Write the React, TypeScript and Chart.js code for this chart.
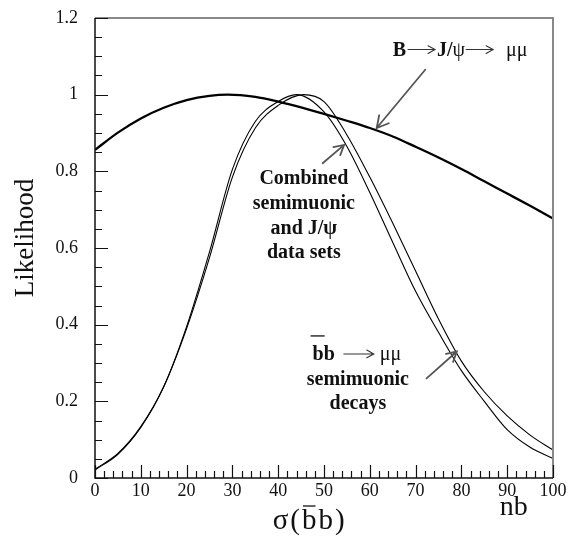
import React, { useEffect, useRef } from "react";
import { Chart, registerables } from "chart.js";
Chart.register(...registerables);

// J/psi (broad) likelihood
const jpsiX = [0, 5, 10, 15, 20, 25, 29, 35, 40, 45, 50, 55, 60, 65, 70, 75, 80, 85, 90, 95, 100];
const jpsiY = [0.856, 0.901, 0.938, 0.966, 0.986, 0.997, 1.0, 0.994, 0.982, 0.967, 0.95, 0.932, 0.913, 0.891, 0.864, 0.836, 0.806, 0.774, 0.742, 0.71, 0.677];

// Combined semimuonic + J/psi likelihood
const combX = [0, 5, 10, 15, 20, 25, 30, 35, 40, 44, 50, 55, 60, 65, 70, 75, 80, 85, 90, 95, 100];
const combY = [0.021, 0.062, 0.132, 0.238, 0.395, 0.59, 0.805, 0.93, 0.982, 1.0, 0.955, 0.865, 0.745, 0.615, 0.487, 0.38, 0.28, 0.2, 0.126, 0.08, 0.051];

// bb -> mu mu semimuonic likelihood
const semiX = [0, 5, 10, 15, 20, 25, 30, 35, 40, 45.5, 50, 55, 60, 65, 70, 75, 80, 85, 90, 95, 100];
const semiY = [0.023, 0.064, 0.134, 0.238, 0.39, 0.575, 0.785, 0.913, 0.972, 1.0, 0.982, 0.895, 0.785, 0.665, 0.54, 0.415, 0.305, 0.225, 0.162, 0.112, 0.073];

const xMin = 0, xMax = 100, xMajor = 10, xMinor = 2;
const yMin = 0, yMax = 1.2, yMajor = 0.2, yMinor = 0.05;

const SERIF = '"Liberation Serif", "Times New Roman", serif';

const pts = (xs: number[], ys: number[]) => xs.map((x, i) => ({ x, y: ys[i] }));

function arrow(ctx: CanvasRenderingContext2D, x1: number, y1: number, x2: number, y2: number, head: number, color: string, lw: number) {
  ctx.save();
  ctx.strokeStyle = color;
  ctx.lineWidth = lw;
  ctx.lineCap = "round";
  ctx.beginPath();
  ctx.moveTo(x1, y1);
  ctx.lineTo(x2, y2);
  const a = Math.atan2(y2 - y1, x2 - x1);
  ctx.moveTo(x2 - head * Math.cos(a - 0.5), y2 - head * Math.sin(a - 0.5));
  ctx.lineTo(x2, y2);
  ctx.lineTo(x2 - head * Math.cos(a + 0.5), y2 - head * Math.sin(a + 0.5));
  ctx.stroke();
  ctx.restore();
}

const decor = {
  id: "decor",
  afterDraw(chart: any) {
    const ctx: CanvasRenderingContext2D = chart.ctx;
    const { left, right, top, bottom } = chart.chartArea;
    const xs = chart.scales.x;
    const ys = chart.scales.y;
    const X = (v: number) => xs.getPixelForValue(v);
    const Y = (v: number) => ys.getPixelForValue(v);
    ctx.save();
    // frame
    ctx.strokeStyle = "#888";
    ctx.lineWidth = 2;
    ctx.beginPath();
    ctx.moveTo(left, top);
    ctx.lineTo(right, top);
    ctx.lineTo(right, bottom);
    ctx.stroke();
    ctx.strokeStyle = "#111";
    ctx.lineWidth = 1.5;
    ctx.beginPath();
    ctx.moveTo(left, top);
    ctx.lineTo(left, bottom);
    ctx.lineTo(right, bottom);
    ctx.stroke();
    // ticks (inside)
    ctx.lineWidth = 1.2;
    ctx.beginPath();
    for (let k = 0; k <= Math.round((yMax - yMin) / yMinor); k++) {
      const v = yMin + k * yMinor;
      const major = Math.abs(v / yMajor - Math.round(v / yMajor)) < 1e-6;
      const p = Math.round(Y(v)) + 0.5;
      ctx.moveTo(left, p);
      ctx.lineTo(left + (major ? 13 : 7), p);
    }
    for (let k = 0; k <= Math.round((xMax - xMin) / xMinor); k++) {
      const v = xMin + k * xMinor;
      const major = v % xMajor === 0;
      const p = Math.round(X(v)) + 0.5;
      ctx.moveTo(p, bottom);
      ctx.lineTo(p, bottom - (major ? 13 : 7));
    }
    ctx.stroke();

    // axis titles
    ctx.fillStyle = "#111";
    ctx.font = `27px ${SERIF}`;
    ctx.save();
    ctx.translate(33, (top + bottom) / 2 - 10);
    ctx.rotate(-Math.PI / 2);
    ctx.textAlign = "center";
    ctx.textBaseline = "alphabetic";
    ctx.fillText("Likelihood", 0, 0);
    ctx.restore();

    ctx.font = `29px ${SERIF}`;
    ctx.textAlign = "left";
    ctx.textBaseline = "alphabetic";
    let sx = X(38.8);
    const sb = bottom + 51;
    const gap = 2;
    ctx.fillText("σ", sx, sb);
    sx += ctx.measureText("σ").width + gap;
    ctx.fillText("(", sx, sb);
    sx += ctx.measureText("(").width + gap;
    const bw = ctx.measureText("b").width;
    ctx.fillText("b", sx, sb);
    ctx.lineWidth = 1.3;
    ctx.beginPath();
    ctx.moveTo(sx + 1, sb - 23);
    ctx.lineTo(sx + bw - 1, sb - 23);
    ctx.stroke();
    sx += bw + gap;
    ctx.fillText("b", sx, sb);
    sx += bw + gap;
    ctx.fillText(")", sx, sb);
    ctx.font = `28px ${SERIF}`;
    ctx.fillText("nb", X(88.4), bottom + 37);

    // annotations
    const grey = "#555";
    ctx.font = `bold 20px ${SERIF}`;
    // B -> J/psi -> mu mu
    let ax = X(65.0);
    const ab = Y(1.102);
    ctx.fillText("B", ax, ab);
    ax += ctx.measureText("B").width + 2;
    arrow(ctx, ax, ab - 6, ax + 27, ab - 6, 8, "#333", 1.1);
    ax += 29;
    ctx.fillText("J/", ax, ab);
    ax += ctx.measureText("J/").width;
    ctx.font = `20px ${SERIF}`;
    ctx.fillText("ψ", ax, ab);
    ax += ctx.measureText("ψ").width + 1;
    arrow(ctx, ax, ab - 6, ax + 27, ab - 6, 8, "#333", 1.1);
    ax += 40;
    ctx.fillText("μμ", ax, ab);

    // combined block
    ctx.textAlign = "center";
    ctx.font = `bold 20px ${SERIF}`;
    const cx = X(45.6);
    ctx.fillText("Combined", cx, Y(0.768));
    ctx.fillText("semimuonic", cx, Y(0.702));
    ctx.fillText("and J/ψ", cx, Y(0.637));
    ctx.fillText("data sets", cx, Y(0.574));

    // bb block
    ctx.fillText("semimuonic", X(57.4), Y(0.243));
    ctx.fillText("decays", X(57.4), Y(0.18));
    ctx.textAlign = "left";
    let bx = X(47.5);
    const bb = Y(0.308);
    ctx.fillText("bb", bx, bb);
    const b1 = ctx.measureText("b").width;
    ctx.lineWidth = 1.3;
    ctx.beginPath();
    ctx.moveTo(bx - 2, bb - 24);
    ctx.lineTo(bx + b1 + 1, bb - 24);
    ctx.stroke();
    bx += ctx.measureText("bb").width + 9;
    arrow(ctx, bx, bb - 6, bx + 30, bb - 6, 8, "#333", 1.1);
    ctx.font = `20px ${SERIF}`;
    ctx.fillText("μμ", bx + 36, bb);

    // pointer arrows
    arrow(ctx, X(72.1), Y(1.065), X(61.5), Y(0.913), 13, grey, 1.8);
    arrow(ctx, X(49.7), Y(0.821), X(54.4), Y(0.869), 11, grey, 1.8);
    arrow(ctx, X(72.4), Y(0.26), X(79.0), Y(0.33), 11, grey, 1.8);
    ctx.restore();
  },
};

export default function App() {
  const ref = useRef<HTMLCanvasElement | null>(null);
  useEffect(() => {
    if (!ref.current) return;
    const line = (data: any, w: number) => ({
      data,
      borderColor: "#000",
      borderWidth: w,
      pointRadius: 0,
      fill: false,
      cubicInterpolationMode: "monotone" as const,
    });
    const chart = new Chart(ref.current, {
      type: "line",
      data: {
        datasets: [
          line(pts(jpsiX, jpsiY), 2.3),
          line(pts(combX, combY), 1.1),
          line(pts(semiX, semiY), 1.1),
        ],
      },
      options: {
        animation: false,
        responsive: false,
        devicePixelRatio: 1,
        layout: { padding: { left: 0, top: 18, right: 19, bottom: 0 } },
        plugins: { legend: { display: false }, tooltip: { enabled: false } },
        scales: {
          x: {
            type: "linear",
            min: xMin,
            max: xMax,
            grid: { display: false, drawTicks: false },
            border: { display: false },
            ticks: {
              stepSize: xMajor,
              color: "#111",
              font: { family: SERIF, size: 18 },
              padding: 2,
              maxRotation: 0,
            },
            afterFit: (s: any) => { s.height = 59; },
          },
          y: {
            min: yMin,
            max: yMax,
            grid: {
              display: true,
              drawOnChartArea: false,
              drawTicks: true,
              tickLength: 10,
              tickColor: "rgba(0,0,0,0)",
            },
            border: { display: false },
            ticks: {
              stepSize: yMajor,
              color: "#111",
              font: { family: SERIF, size: 18 },
              padding: 7,
              callback: (v: any) => String(Math.round(Number(v) * 10) / 10),
            },
            afterFit: (s: any) => { s.width = 95; },
          },
        },
      },
      plugins: [decor],
    });
    return () => chart.destroy();
  }, []);
  return (
    <div style={{ position: "absolute", left: 0, top: 0, width: 572, height: 537, background: "#fff" }}>
      <canvas ref={ref} width={572} height={537} />
    </div>
  );
}
